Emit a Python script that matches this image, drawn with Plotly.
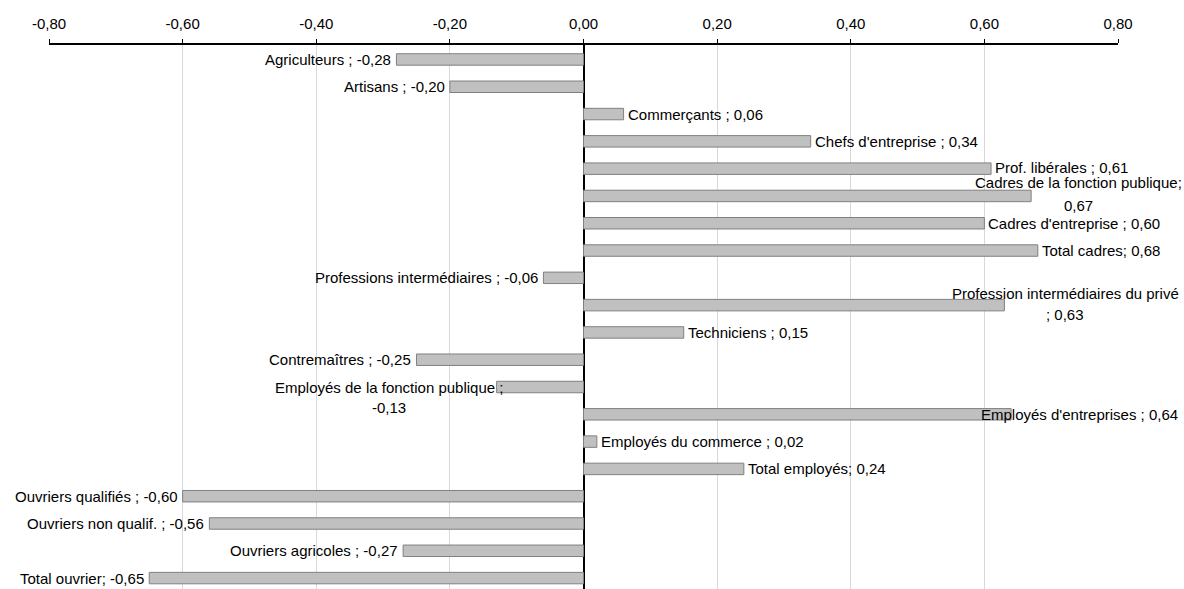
import plotly.graph_objects as go

# categories, top to bottom
categories = [
    "Agriculteurs", "Artisans", "Commerçants", "Chefs d'entreprise",
    "Prof. libérales", "Cadres de la fonction publique", "Cadres d'entreprise",
    "Total cadres", "Professions intermédiaires",
    "Profession intermédiaires du privé", "Techniciens", "Contremaîtres",
    "Employés de la fonction publique", "Employés d'entreprises",
    "Employés du commerce", "Total employés", "Ouvriers qualifiés",
    "Ouvriers non qualif.", "Ouvriers agricoles", "Total ouvrier",
]
values = [
    -0.28, -0.20, 0.06, 0.34, 0.61, 0.67, 0.60, 0.68, -0.06, 0.63,
    0.15, -0.25, -0.13, 0.64, 0.02, 0.24, -0.60, -0.56, -0.27, -0.65,
]
# separator used in each data label
separators = [
    " ;", " ;", " ;", " ;", " ;", ";", " ;", ";", " ;", "",
    " ;", " ;", " ;", " ;", " ;", ";", " ;", " ;", " ;", ";",
]
tick_vals = [-0.8, -0.6, -0.4, -0.2, 0.0, 0.2, 0.4, 0.6, 0.8]
tick_text = ["-0,80", "-0,60", "-0,40", "-0,20", "0,00", "0,20", "0,40", "0,60", "0,80"]

FONT = "Liberation Sans, Arial, sans-serif"
FS = 15


def fmt(v):
    return f"{v:.2f}".replace(".", ",")


fig = go.Figure()
fig.add_trace(go.Bar(
    x=values, y=categories, orientation="h", width=0.42,
    marker=dict(color="#c0c0c0", line=dict(color="#808080", width=1)),
    hoverinfo="skip", showlegend=False,
))

# labels that Excel wrapped / pushed around: (xshift, yshift line1, yshift line2)
wrapped = {
    "Cadres de la fonction publique": (47, 13, -10),
    "Profession intermédiaires du privé": (61, 12, -9),
    "Employés de la fonction publique": (-108, 0, -20),
}

base = dict(showarrow=False, borderpad=0, borderwidth=0)
annotations = []
for name, v, sep in zip(categories, values, separators):
    if name in wrapped:
        dx, dy1, dy2 = wrapped[name]
        if name == "Profession intermédiaires du privé":
            l1, l2 = name, "; " + fmt(v)
        else:
            l1, l2 = name + sep, fmt(v)
        annotations.append(dict(x=v, y=name, text=l1, xanchor="center", xshift=dx,
                                yshift=dy1, **base))
        annotations.append(dict(x=v, y=name, text=l2, xanchor="center", xshift=dx,
                                yshift=dy2, **base))
        continue
    text = f"{name}{sep} {fmt(v)}"
    if name == "Employés d'entreprises":
        annotations.append(dict(x=1, xref="paper", y=name, text=text, xanchor="right",
                                xshift=60, **base))
    elif name == "Prof. libérales":
        annotations.append(dict(x=v, y=name, text=text, xanchor="left", xshift=4,
                                yshift=1, **base))
    elif v >= 0:
        annotations.append(dict(x=v, y=name, text=text, xanchor="left", xshift=4, **base))
    else:
        annotations.append(dict(x=v, y=name, text=text, xanchor="right", xshift=-5, **base))

fig.update_layout(
    width=1184, height=589,
    margin=dict(l=49, r=66, t=45, b=0),
    paper_bgcolor="white", plot_bgcolor="white",
    font=dict(family=FONT, size=FS, color="#000000"),
    annotations=annotations,
)
fig.update_xaxes(
    side="top", range=[-0.8, 0.8], tickvals=tick_vals, ticktext=tick_text,
    showline=True, linecolor="#000000", linewidth=1.5,
    ticks="outside", ticklen=4, tickcolor="#000000", ticklabelstandoff=4,
    showgrid=True, gridcolor="#d9d9d9", gridwidth=1,
    zeroline=True, zerolinecolor="#000000", zerolinewidth=1.5,
    tickfont=dict(family=FONT, size=FS, color="#000000"),
)
fig.update_yaxes(
    type="category", categoryorder="array", categoryarray=categories,
    range=[19.4, -0.53], showticklabels=False, showgrid=False, showline=False,
    ticks="",
)

fig.write_html("out.html", config={"displayModeBar": False},
               post_script="document.body.style.margin='0';")
